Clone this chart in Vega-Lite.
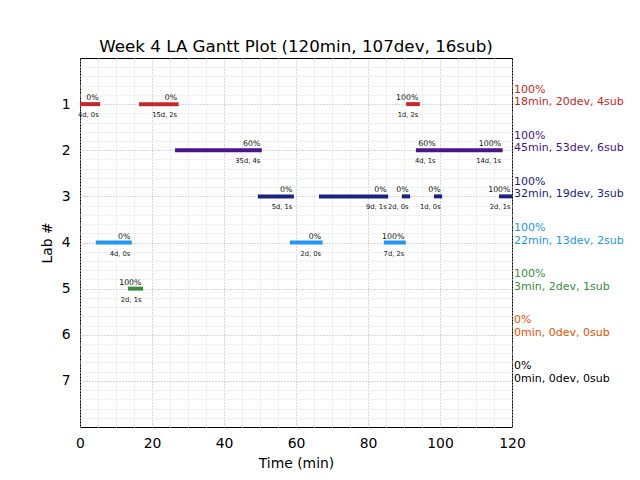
{
  "$schema": "https://vega.github.io/schema/vega-lite/v6.json",
  "width": 432,
  "height": 369,
  "autosize": {"type": "none"},
  "padding": {"left": 80, "top": 58, "right": 128, "bottom": 53},
  "background": "white",
  "title": {"text": "Week 4 LA Gantt Plot (120min, 107dev, 16sub)", "font": "DejaVu Sans", "fontSize": 16.7, "fontWeight": "normal", "color": "black", "offset": 4, "dy": 2},
  "config": {
    "font": "DejaVu Sans",
    "view": {"stroke": "black", "strokeWidth": 1},
    "axis": {"domain": false, "ticks": false, "labelFont": "DejaVu Sans", "titleFont": "DejaVu Sans", "labelColor": "black", "titleColor": "black", "labelFontSize": 13.9, "titleFontSize": 13.9, "titleFontWeight": "normal"}
  },
  "datasets": {
    "bars": [
      {"lab": 1, "start": 0, "end": 5.6, "pct": "0%", "dur": "4d, 0s"},
      {"lab": 1, "start": 16.4, "end": 27.4, "pct": "0%", "dur": "15d, 2s"},
      {"lab": 1, "start": 90.6, "end": 94.4, "pct": "100%", "dur": "1d, 2s"},
      {"lab": 2, "start": 26.4, "end": 50.5, "pct": "60%", "dur": "35d, 4s"},
      {"lab": 2, "start": 93.3, "end": 99.2, "pct": "60%", "dur": "4d, 1s"},
      {"lab": 2, "start": 99.2, "end": 117.4, "pct": "100%", "dur": "14d, 1s"},
      {"lab": 3, "start": 49.4, "end": 59.4, "pct": "0%", "dur": "5d, 1s"},
      {"lab": 3, "start": 66.4, "end": 85.6, "pct": "0%", "dur": "9d, 1s"},
      {"lab": 3, "start": 89.4, "end": 91.7, "pct": "0%", "dur": "2d, 0s"},
      {"lab": 3, "start": 98.3, "end": 100.6, "pct": "0%", "dur": "1d, 0s"},
      {"lab": 3, "start": 116.4, "end": 120, "pct": "100%", "dur": "2d, 1s"},
      {"lab": 4, "start": 4.4, "end": 14.4, "pct": "0%", "dur": "4d, 0s"},
      {"lab": 4, "start": 58.3, "end": 67.4, "pct": "0%", "dur": "2d, 0s"},
      {"lab": 4, "start": 84.4, "end": 90.5, "pct": "100%", "dur": "7d, 2s"},
      {"lab": 5, "start": 13.3, "end": 17.5, "pct": "100%", "dur": "2d, 1s"}
    ],
    "summary": [
      {"lab": 1, "pct": "100%", "info": "18min, 20dev, 4sub"},
      {"lab": 2, "pct": "100%", "info": "45min, 53dev, 6sub"},
      {"lab": 3, "pct": "100%", "info": "32min, 19dev, 3sub"},
      {"lab": 4, "pct": "100%", "info": "22min, 13dev, 2sub"},
      {"lab": 5, "pct": "100%", "info": "3min, 2dev, 1sub"},
      {"lab": 6, "pct": "0%", "info": "0min, 0dev, 0sub"},
      {"lab": 7, "pct": "0%", "info": "0min, 0dev, 0sub"}
    ]
  },
  "resolve": {"axis": {"x": "independent", "y": "independent"}},
  "layer": [
    {
      "data": {"name": "bars"},
      "mark": {"type": "text", "align": "right", "baseline": "top", "dy": 8, "dx": -1.5, "fontSize": 6.75, "color": "#111"},
      "encoding": {
        "x": {"field": "end", "type": "quantitative", "scale": {"domain": [0, 120], "nice": false, "zero": false},
              "axis": {"orient": "top", "labels": false, "title": null, "grid": true, "gridColor": "#f1f1f1", "gridWidth": 1,
                       "values": [5,10,15,25,30,35,45,50,55,65,70,75,85,90,95,105,110,115]}},
        "y": {"field": "lab", "type": "quantitative", "scale": {"domain": [0, 8], "nice": false, "zero": false, "reverse": true},
              "axis": {"orient": "right", "labels": false, "title": null, "grid": true, "gridColor": "#f1f1f1", "gridWidth": 1,
                       "values": [0.2,0.4,0.6,0.8,1.2,1.4,1.6,1.8,2.2,2.4,2.6,2.8,3.2,3.4,3.6,3.8,4.2,4.4,4.6,4.8,5.2,5.4,5.6,5.8,6.2,6.4,6.6,6.8,7.2,7.4,7.6,7.8]}},
        "text": {"field": "dur"}
      }
    },
    {
      "data": {"name": "bars"},
      "mark": {"type": "rule", "strokeWidth": 4, "strokeCap": "butt"},
      "encoding": {
        "x": {"field": "start", "type": "quantitative",
              "axis": {"orient": "bottom", "title": "Time (min)", "values": [0,20,40,60,80,100,120], "grid": true, "gridColor": "#b0b0b0", "gridDash": [1, 2], "gridWidth": 1, "labelPadding": 9, "titlePadding": 7, "labelFlush": false}},
        "x2": {"field": "end"},
        "y": {"field": "lab", "type": "quantitative",
              "axis": {"orient": "left", "title": "Lab #", "values": [1,2,3,4,5,6,7], "grid": true, "gridColor": "#b0b0b0", "gridDash": [1, 2], "gridWidth": 1, "labelPadding": 10, "titlePadding": 7}},
        "color": {"field": "lab", "type": "nominal", "legend": null,
                  "scale": {"domain": [1,2,3,4,5,6,7], "range": ["#c62828", "#4a148c", "#1a237e", "#2196f3", "#388e3c", "#e65100", "#000000"]}}
      }
    },
    {
      "data": {"name": "bars"},
      "mark": {"type": "text", "align": "right", "baseline": "alphabetic", "dy": -4, "dx": -1.5, "fontSize": 7.8, "color": "#111"},
      "encoding": {
        "x": {"field": "end", "type": "quantitative", "axis": null},
        "y": {"field": "lab", "type": "quantitative", "axis": null},
        "text": {"field": "pct"}
      }
    },
    {
      "data": {"name": "summary"},
      "mark": {"type": "text", "align": "left", "baseline": "alphabetic", "dy": -11.5, "dx": 2, "fontSize": 11},
      "encoding": {
        "x": {"datum": 120, "type": "quantitative", "axis": null},
        "y": {"field": "lab", "type": "quantitative", "axis": null},
        "text": {"field": "pct"},
        "color": {"field": "lab", "type": "nominal", "legend": null}
      }
    },
    {
      "data": {"name": "summary"},
      "mark": {"type": "text", "align": "left", "baseline": "alphabetic", "dy": 1, "dx": 2, "fontSize": 11},
      "encoding": {
        "x": {"datum": 120, "type": "quantitative", "axis": null},
        "y": {"field": "lab", "type": "quantitative", "axis": null},
        "text": {"field": "info"},
        "color": {"field": "lab", "type": "nominal", "legend": null}
      }
    }
  ]
}
